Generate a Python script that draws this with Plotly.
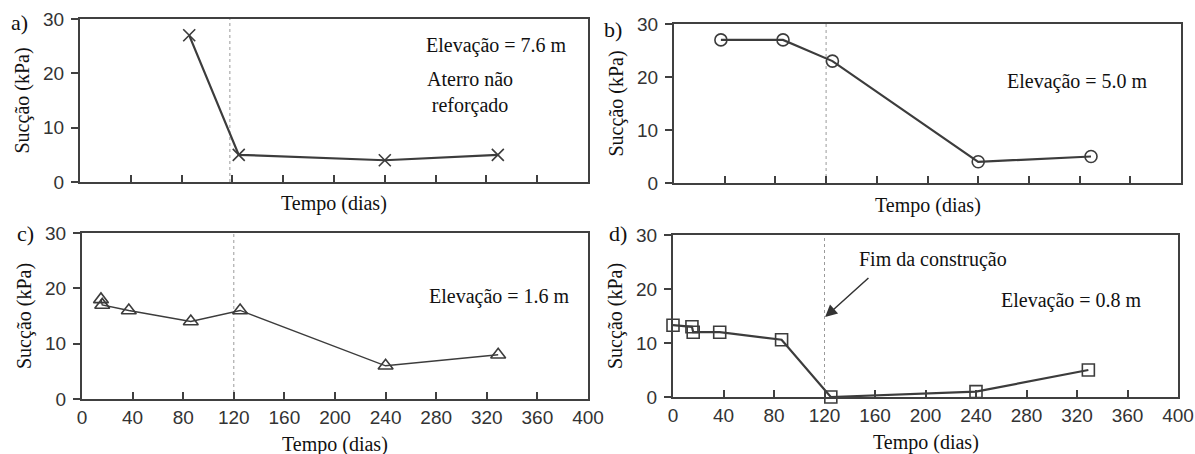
import plotly.graph_objects as go

W, H = 1195, 454

# ---- data ----
a_days = [86, 125, 240, 329]
a_succ = [27, 5, 4, 5]
b_days = [37, 86, 125, 240, 329]
b_succ = [27, 27, 23, 4, 5]
c_days = [15, 16, 37, 86, 125, 240, 329]
c_succ = [18, 17, 16, 14, 16, 6, 8]
d_days = [0, 15, 16, 37, 86, 125, 240, 329]
d_succ = [13.3, 13, 12, 12, 10.6, 0, 1, 5]
end_construction = [118, 120, 120, 120]
x_ticks = [0, 40, 80, 120, 160, 200, 240, 280, 320, 360, 400]
y_ticks = [0, 10, 20, 30]
elev_labels = ["Elevação = 7.6 m", "Elevação = 5.0 m", "Elevação = 1.6 m", "Elevação = 0.8 m"]
panel_labels = ["a)", "b)", "c)", "d)"]

def px(x):
    return x / W

def py(y):
    return 1 - y / H

# panel boxes in pixels: left, right, top, bottom
boxes = [(80, 588, 19, 182), (674, 1181, 24, 183), (82, 588, 233, 399), (673, 1178, 235, 397)]

LINE = "#3c3c3c"
AX = "#404040"
SERIF = "Liberation Serif, Times New Roman, serif"
SANS = "Liberation Sans, Arial, sans-serif"

fig = go.Figure()

series = [(a_days, a_succ, "x-thin-open", 12, 2.2),
          (b_days, b_succ, "circle-open", 12, 2.2),
          (c_days, c_succ, "triangle-up-open", 13, 1.4),
          (d_days, d_succ, "square-open", 12, 2.2)]

for i, (xs, ys, sym, ms, lw) in enumerate(series):
    n = "" if i == 0 else str(i + 1)
    # dotted end-of-construction line
    fig.add_trace(go.Scatter(x=[end_construction[i], end_construction[i]], y=[0, 30],
                             mode="lines", line=dict(color="#9a9a9a", width=1, dash="dot"),
                             xaxis="x" + n, yaxis="y" + n, showlegend=False, hoverinfo="skip"))
    fig.add_trace(go.Scatter(x=xs, y=ys, mode="lines+markers",
                             line=dict(color=LINE, width=lw),
                             marker=dict(symbol=sym, size=ms, color=LINE,
                                         line=dict(color=LINE, width=1.6)),
                             cliponaxis=False,
                             xaxis="x" + n, yaxis="y" + n, showlegend=False))

layout = dict(width=W, height=H, margin=dict(l=0, r=0, t=0, b=0, pad=0),
              paper_bgcolor="white", plot_bgcolor="white", showlegend=False)

annotations = []
for i, (l, r, t, b) in enumerate(boxes):
    n = "" if i == 0 else str(i + 1)
    bottom_row = i >= 2
    layout["xaxis" + n] = dict(domain=[px(l), px(r)], anchor="y" + n, range=[0, 400],
                               tickvals=x_ticks, showticklabels=bottom_row,
                               ticks="inside", ticklen=7, tickwidth=1.5, tickcolor=AX,
                               showline=True, mirror=True, linewidth=2, linecolor=AX,
                               showgrid=False, zeroline=False, ticklabelstandoff=0,
                               automargin=False,
                               tickfont=dict(family=SANS, size=19, color="#333"))
    layout["yaxis" + n] = dict(domain=[py(b), py(t)], anchor="x" + n, range=[0, 30],
                               tickvals=y_ticks, ticks="outside", ticklen=7, tickwidth=1.5,
                               tickcolor=AX, showline=True, mirror=True, linewidth=2,
                               linecolor=AX, showgrid=False, zeroline=False,
                               ticklabelstandoff=3, automargin=False,
                               tickfont=dict(family=SANS, size=19, color="#333"))
    # axis titles
    annotations.append(dict(text="Tempo (dias)", xref="paper", yref="paper",
                            x=px((l + r) / 2), y=py(b + 22 if not bottom_row else b + 45),
                            showarrow=False, font=dict(family=SERIF, size=20, color="#111"),
                            xanchor="center", yanchor="middle"))
    annotations.append(dict(text="Sucção (kPa)", xref="paper", yref="paper",
                            x=px(l - 58), y=py((t + b) / 2), textangle=-90,
                            showarrow=False, font=dict(family=SERIF, size=20, color="#111"),
                            xanchor="center", yanchor="middle"))

# panel letters
letter_pos = [(19, 23), (613, 30), (25, 233), (618, 233)]
for lab, (x, y) in zip(panel_labels, letter_pos):
    annotations.append(dict(text=lab, xref="paper", yref="paper", x=px(x), y=py(y),
                            showarrow=False, font=dict(family=SERIF, size=22, color="#111"),
                            xanchor="center", yanchor="middle"))

# elevation labels (data coords)
elev_pos = [(328, 25.2), (318, 19.1), (330, 18.5), (316, 17.9)]
for i, (txt, (x, y)) in enumerate(zip(elev_labels, elev_pos)):
    n = "" if i == 0 else str(i + 1)
    annotations.append(dict(text=txt, xref="x" + n, yref="y" + n, x=x, y=y,
                            showarrow=False, font=dict(family=SERIF, size=20, color="#111"),
                            xanchor="center", yanchor="middle"))

annotations.append(dict(text="Aterro não<br>reforçado", xref="x", yref="y", x=307, y=16.4,
                        showarrow=False, font=dict(family=SERIF, size=20, color="#111"),
                        xanchor="center", yanchor="middle", align="center"))

annotations.append(dict(text="Fim da construção", xref="x4", yref="y4", x=206, y=25.4,
                        showarrow=False, font=dict(family=SERIF, size=20, color="#111"),
                        xanchor="center", yanchor="middle"))
annotations.append(dict(text="", xref="x4", yref="y4", x=120.5, y=14.8,
                        ax=156, ay=22.3, axref="x4", ayref="y4",
                        showarrow=True, arrowhead=2, arrowsize=1.6, arrowwidth=1.5,
                        arrowcolor="#333"))

layout["annotations"] = annotations
fig.update_layout(**layout)
fig.write_html("out.html")
